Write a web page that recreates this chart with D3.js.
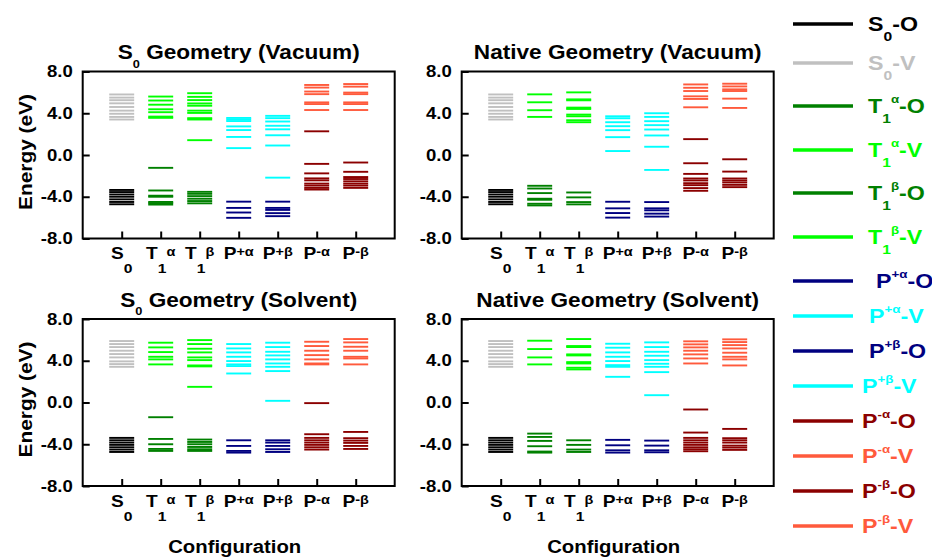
<!DOCTYPE html>
<html>
<head>
<meta charset="utf-8">
<script src="https://cdn.jsdelivr.net/npm/d3@7"></script>
<style>
  html, body { margin: 0; padding: 0; background: #fff; }
  svg { display: block; }
</style>
</head>
<body>
<svg id="chart" width="932" height="558"></svg>
<script>
// ---------------- DATA ----------------
const configs = ["S0", "T1α", "T1β", "P+α", "P+β", "P−α", "P−β"];

// Each entry: energy levels (eV) of one configuration, order as configs
// S0 geometry, vacuum
const vacS0GeoOcc = [
  [-3.35, -3.55, -3.78, -4.0, -4.25, -4.5, -4.72],
  [-1.23, -3.4, -3.9, -4.0, -4.5, -4.62, -4.75],
  [-3.53, -3.72, -3.94, -4.19, -4.41, -4.63],
  [-4.47, -5.07, -5.51, -6.02],
  [-4.47, -5.07, -5.26, -5.57, -5.86],
  [2.27, -0.85, -1.76, -2.24, -2.43, -2.74, -2.93, -3.15, -3.31],
  [-0.72, -1.61, -2.11, -2.3, -2.52, -2.74, -2.93, -3.15]
];
const vacS0GeoVir = [
  [5.8, 5.5, 5.25, 4.95, 4.6, 4.25, 3.95, 3.65, 3.4],
  [5.6, 5.22, 4.82, 4.38, 4.1, 3.68, 3.56],
  [5.92, 5.57, 5.26, 4.94, 4.72, 4.25, 4.03, 3.53, 3.4, 1.42],
  [3.55, 3.4, 3.25, 2.74, 2.39, 1.73, 0.66],
  [3.75, 3.53, 3.21, 2.8, 2.46, 1.89, 0.91, -2.17],
  [6.71, 6.46, 6.08, 5.83, 5.04, 4.88, 4.31],
  [6.8, 6.55, 5.98, 5.83, 5.04, 4.88, 4.31]
];
// Native geometry, vacuum
const vacNatOcc = [
  [-3.35, -3.55, -3.78, -4.0, -4.25, -4.5, -4.72],
  [-2.95, -3.21, -3.65, -4.19, -4.29, -4.67, -4.83],
  [-3.59, -4.06, -4.51, -4.73],
  [-4.48, -5.11, -5.56, -6.0],
  [-4.51, -5.11, -5.3, -5.62, -5.9],
  [1.52, -0.79, -1.81, -2.25, -2.44, -2.7, -2.89, -3.17, -3.43],
  [-0.41, -1.59, -2.25, -2.44, -2.63, -2.86, -3.08]
];
const vacNatVir = [
  [5.8, 5.5, 5.25, 4.95, 4.6, 4.25, 3.95, 3.65, 3.4],
  [5.81, 5.05, 4.29, 3.65],
  [6.0, 5.33, 5.24, 4.54, 4.41, 3.87, 3.71, 3.33, 3.14],
  [3.71, 3.52, 3.14, 2.76, 2.38, 1.71, 0.38],
  [4.0, 3.65, 3.24, 2.86, 2.44, 1.87, 0.79, -1.43],
  [6.76, 6.44, 6.13, 5.62, 5.37, 4.57],
  [6.83, 6.57, 6.29, 6.13, 5.4, 4.51]
];
// S0 geometry, solvent
const solS0GeoOcc = [
  [-3.39, -3.62, -3.84, -4.06, -4.29, -4.51, -4.74],
  [-1.41, -3.49, -4.0, -4.45, -4.64],
  [-3.55, -3.78, -4.0, -4.26, -4.48, -4.64],
  [-3.62, -4.16, -4.64, -4.8],
  [-3.62, -3.84, -4.16, -4.48, -4.74],
  [-0.06, -3.04, -3.39, -3.62, -3.84, -4.06, -4.29, -4.51],
  [-2.82, -3.42, -3.65, -3.87, -4.16, -4.45]
];
const solS0GeoVir = [
  [5.89, 5.6, 5.31, 4.96, 4.64, 4.32, 3.94, 3.68, 3.42],
  [5.73, 5.28, 4.83, 4.38, 4.13, 3.65],
  [5.98, 5.6, 5.15, 4.8, 4.32, 4.06, 3.55, 3.46, 1.5],
  [5.6, 5.18, 4.8, 4.38, 3.97, 3.65, 3.49, 2.78],
  [5.73, 5.31, 4.86, 4.51, 4.13, 3.74, 3.42, 3.01, 0.16],
  [5.82, 5.41, 4.96, 4.54, 4.13, 3.74, 3.65],
  [6.08, 5.76, 5.34, 4.96, 4.38, 4.22, 3.65]
];
// Native geometry, solvent
const solNatOcc = [
  [-3.39, -3.62, -3.84, -4.06, -4.29, -4.51, -4.74],
  [-2.98, -3.3, -3.68, -4.19, -4.7, -4.8],
  [-3.62, -4.06, -4.51, -4.74],
  [-3.58, -4.1, -4.58, -4.8],
  [-3.65, -4.13, -4.58, -4.77],
  [-0.67, -2.88, -3.39, -3.62, -3.84, -4.06, -4.29, -4.48, -4.67],
  [-2.53, -3.42, -3.62, -3.84, -4.13, -4.32, -4.54]
];
const solNatVir = [
  [5.89, 5.6, 5.31, 4.96, 4.64, 4.32, 3.94, 3.68, 3.42],
  [5.92, 5.12, 4.32, 3.65],
  [6.08, 5.41, 5.31, 4.61, 4.51, 3.87, 3.74, 3.33, 3.17],
  [5.63, 5.25, 4.8, 4.38, 3.97, 3.58, 3.42, 2.46],
  [5.76, 5.31, 4.86, 4.48, 4.06, 3.71, 3.42, 2.91, 0.7],
  [5.86, 5.57, 5.28, 4.96, 4.61, 4.22, 3.74],
  [6.05, 5.79, 5.5, 5.18, 4.77, 4.38, 4.13, 3.55]
];

const yTicks = [-8, -4, 0, 4, 8];

// label pieces: r = "sub" | "sup"
const configLabels = [
  [{t: "S"}, {t: "0", r: "sub"}],
  [{t: "T"}, {t: "1", r: "sub"}, {t: "α", r: "sup"}],
  [{t: "T"}, {t: "1", r: "sub"}, {t: "β", r: "sup"}],
  [{t: "P"}, {t: "+α", r: "sup"}],
  [{t: "P"}, {t: "+β", r: "sup"}],
  [{t: "P"}, {t: "-α", r: "sup"}],
  [{t: "P"}, {t: "-β", r: "sup"}]
];
const panelTitles = [
  [{t: "S"}, {t: "0", r: "sub"}, {t: " Geometry (Vacuum)"}],
  [{t: "Native Geometry (Vacuum)"}],
  [{t: "S"}, {t: "0", r: "sub"}, {t: " Geometry (Solvent)"}],
  [{t: "Native Geometry (Solvent)"}]
];
const occColors = ["#000000", "#008000", "#008000", "#000080", "#000080", "#8b0000", "#8b0000"];
const virColors = ["#c0c0c0", "#00ff00", "#00ff00", "#00ffff", "#00ffff", "#ff5a3c", "#ff5a3c"];

// ---------------- LAYOUT ----------------
const FONT = "'Liberation Sans', Arial, Helvetica, sans-serif";
const SX = 1.16; // horizontal glyph stretch
const panelW = 312, panelH = 167;
const panels = [
  {x: 82.7, y: 71.5, occ: vacS0GeoOcc, vir: vacS0GeoVir, title: panelTitles[0], left: true, bottom: false},
  {x: 461.7, y: 71.5, occ: vacNatOcc, vir: vacNatVir, title: panelTitles[1], left: false, bottom: false},
  {x: 82.7, y: 319, occ: solS0GeoOcc, vir: solS0GeoVir, title: panelTitles[2], left: true, bottom: true},
  {x: 461.7, y: 319, occ: solNatOcc, vir: solNatVir, title: panelTitles[3], left: false, bottom: true}
];
const halfW = 0.32; // half width of level line in category units

const svg = d3.select("#chart");

const styles = {
  tick:   {sub: {size: 13.5, off: 14.5}, sup: {size: 12.5, off: -3}},
  legend: {sub: {size: 13.5, off: 10},   sup: {size: 11.5, off: -10}},
  title:  {sub: {size: 11, off: 8.5},    sup: {size: 11, off: -8}}
};

function rich(parent, x, y, parts, o) {
  const g = parent.append("g")
    .attr("transform", `translate(${x},${y})` + (o.rotate ? ` rotate(${o.rotate})` : "") + ` scale(${SX},1)`);
  const t = g.append("text")
    .attr("text-anchor", o.anchor || "start")
    .attr("font-family", FONT)
    .attr("font-weight", "bold")
    .attr("font-size", o.size)
    .attr("fill", o.color || "#000");
  let prev = 0;
  parts.forEach(p => {
    const st = p.r ? styles[o.style][p.r] : null;
    const off = st ? st.off : 0;
    const ts = t.append("tspan").text(p.t).attr("dy", off - prev);
    if (st) ts.attr("font-size", st.size);
    prev = off;
  });
  return g;
}

panels.forEach(P => {
  const x = d3.scaleLinear().domain([0, configs.length + 1]).range([P.x, P.x + panelW]);
  const y = d3.scaleLinear().domain([-8, 8]).range([P.y + panelH, P.y]);
  const g = svg.append("g");

  // level lines
  configs.forEach((c, i) => {
    const cx = i + 1;
    g.selectAll(null).data(P.vir[i]).enter().append("line")
      .attr("x1", x(cx - halfW)).attr("x2", x(cx + halfW))
      .attr("y1", d => y(d)).attr("y2", d => y(d))
      .attr("stroke", virColors[i]).attr("stroke-width", 1.9);
    g.selectAll(null).data(P.occ[i]).enter().append("line")
      .attr("x1", x(cx - halfW)).attr("x2", x(cx + halfW))
      .attr("y1", d => y(d)).attr("y2", d => y(d))
      .attr("stroke", occColors[i]).attr("stroke-width", 1.9);
  });

  // y axis
  const ya = g.append("g").attr("transform", `translate(${P.x},0)`)
    .call(d3.axisLeft(y).tickValues(yTicks).tickSizeInner(-7).tickSizeOuter(0).tickPadding(10)
      .tickFormat(d => d.toFixed(1)));
  ya.select(".domain").remove();
  ya.selectAll(".tick line").attr("stroke", "#000").attr("stroke-width", 2);
  ya.selectAll(".tick text")
    .attr("font-family", FONT).attr("font-weight", "bold").attr("font-size", 16).attr("fill", "#000")
    .attr("x", -10 / SX).attr("transform", `scale(${SX},1)`);

  // x axis ticks
  const xa = g.append("g").attr("transform", `translate(0,${P.y + panelH})`)
    .call(d3.axisBottom(x).tickValues(d3.range(1, configs.length + 1)).tickSizeInner(-7).tickSizeOuter(0).tickFormat(""));
  xa.select(".domain").remove();
  xa.selectAll(".tick line").attr("stroke", "#000").attr("stroke-width", 2);

  // frame
  g.append("rect").attr("x", P.x).attr("y", P.y).attr("width", panelW).attr("height", panelH)
    .attr("fill", "none").attr("stroke", "#000").attr("stroke-width", 2);

  // category labels
  configLabels.forEach((parts, i) => {
    rich(g, x(i + 1), P.y + panelH + 20.5, parts, {size: 16.5, anchor: "middle", style: "tick"});
  });

  // title
  rich(g, P.x + panelW / 2, P.y - 12.3, P.title, {size: 19.5, anchor: "middle", style: "title"});

  if (P.left) {
    rich(g, 31.5, P.y + panelH / 2 - 3, [{t: "Energy (eV)"}], {size: 18, anchor: "middle", rotate: -90, style: "title"});
  }
  if (P.bottom) {
    rich(g, P.x + panelW / 2 - 4, P.y + panelH + 67, [{t: "Configuration"}], {size: 17.5, anchor: "middle", style: "title"});
  }
});

// ---------------- LEGEND ----------------
const legendNames = [
  [{t: "S"}, {t: "0", r: "sub"}, {t: "-O"}],
  [{t: "S"}, {t: "0", r: "sub"}, {t: "-V"}],
  [{t: "T"}, {t: "1", r: "sub"}, {t: "α", r: "sup"}, {t: "-O"}],
  [{t: "T"}, {t: "1", r: "sub"}, {t: "α", r: "sup"}, {t: "-V"}],
  [{t: "T"}, {t: "1", r: "sub"}, {t: "β", r: "sup"}, {t: "-O"}],
  [{t: "T"}, {t: "1", r: "sub"}, {t: "β", r: "sup"}, {t: "-V"}],
  [{t: "P"}, {t: "+α", r: "sup"}, {t: "-O"}],
  [{t: "P"}, {t: "+α", r: "sup"}, {t: "-V"}],
  [{t: "P"}, {t: "+β", r: "sup"}, {t: "-O"}],
  [{t: "P"}, {t: "+β", r: "sup"}, {t: "-V"}],
  [{t: "P"}, {t: "-α", r: "sup"}, {t: "-O"}],
  [{t: "P"}, {t: "-α", r: "sup"}, {t: "-V"}],
  [{t: "P"}, {t: "-β", r: "sup"}, {t: "-O"}],
  [{t: "P"}, {t: "-β", r: "sup"}, {t: "-V"}]
];
const legendColors = ["#000000", "#c0c0c0", "#008000", "#00ff00", "#008000", "#00ff00",
  "#000080", "#00ffff", "#000080", "#00ffff", "#8b0000", "#ff5a3c", "#8b0000", "#ff5a3c"];

// layout of legend rows
const legendGaps = [0, 39, 43, 44, 43, 44, 44, 35, 35, 35, 35, 35, 35, 35];
const legendTextX = [868, 868, 868, 868, 868, 868, 876, 869, 869, 862, 862, 862, 862, 862];
const legendY = d3.cumsum(legendGaps).map(v => 24 + v);

const lg = svg.append("g");
legendNames.forEach((parts, i) => {
  lg.append("line").attr("x1", 793).attr("x2", 853)
    .attr("y1", legendY[i]).attr("y2", legendY[i])
    .attr("stroke", legendColors[i]).attr("stroke-width", 3.5);
  rich(lg, legendTextX[i], legendY[i] + 7.3, parts, {size: 20, color: legendColors[i], style: "legend"});
});
</script>
</body>
</html>
